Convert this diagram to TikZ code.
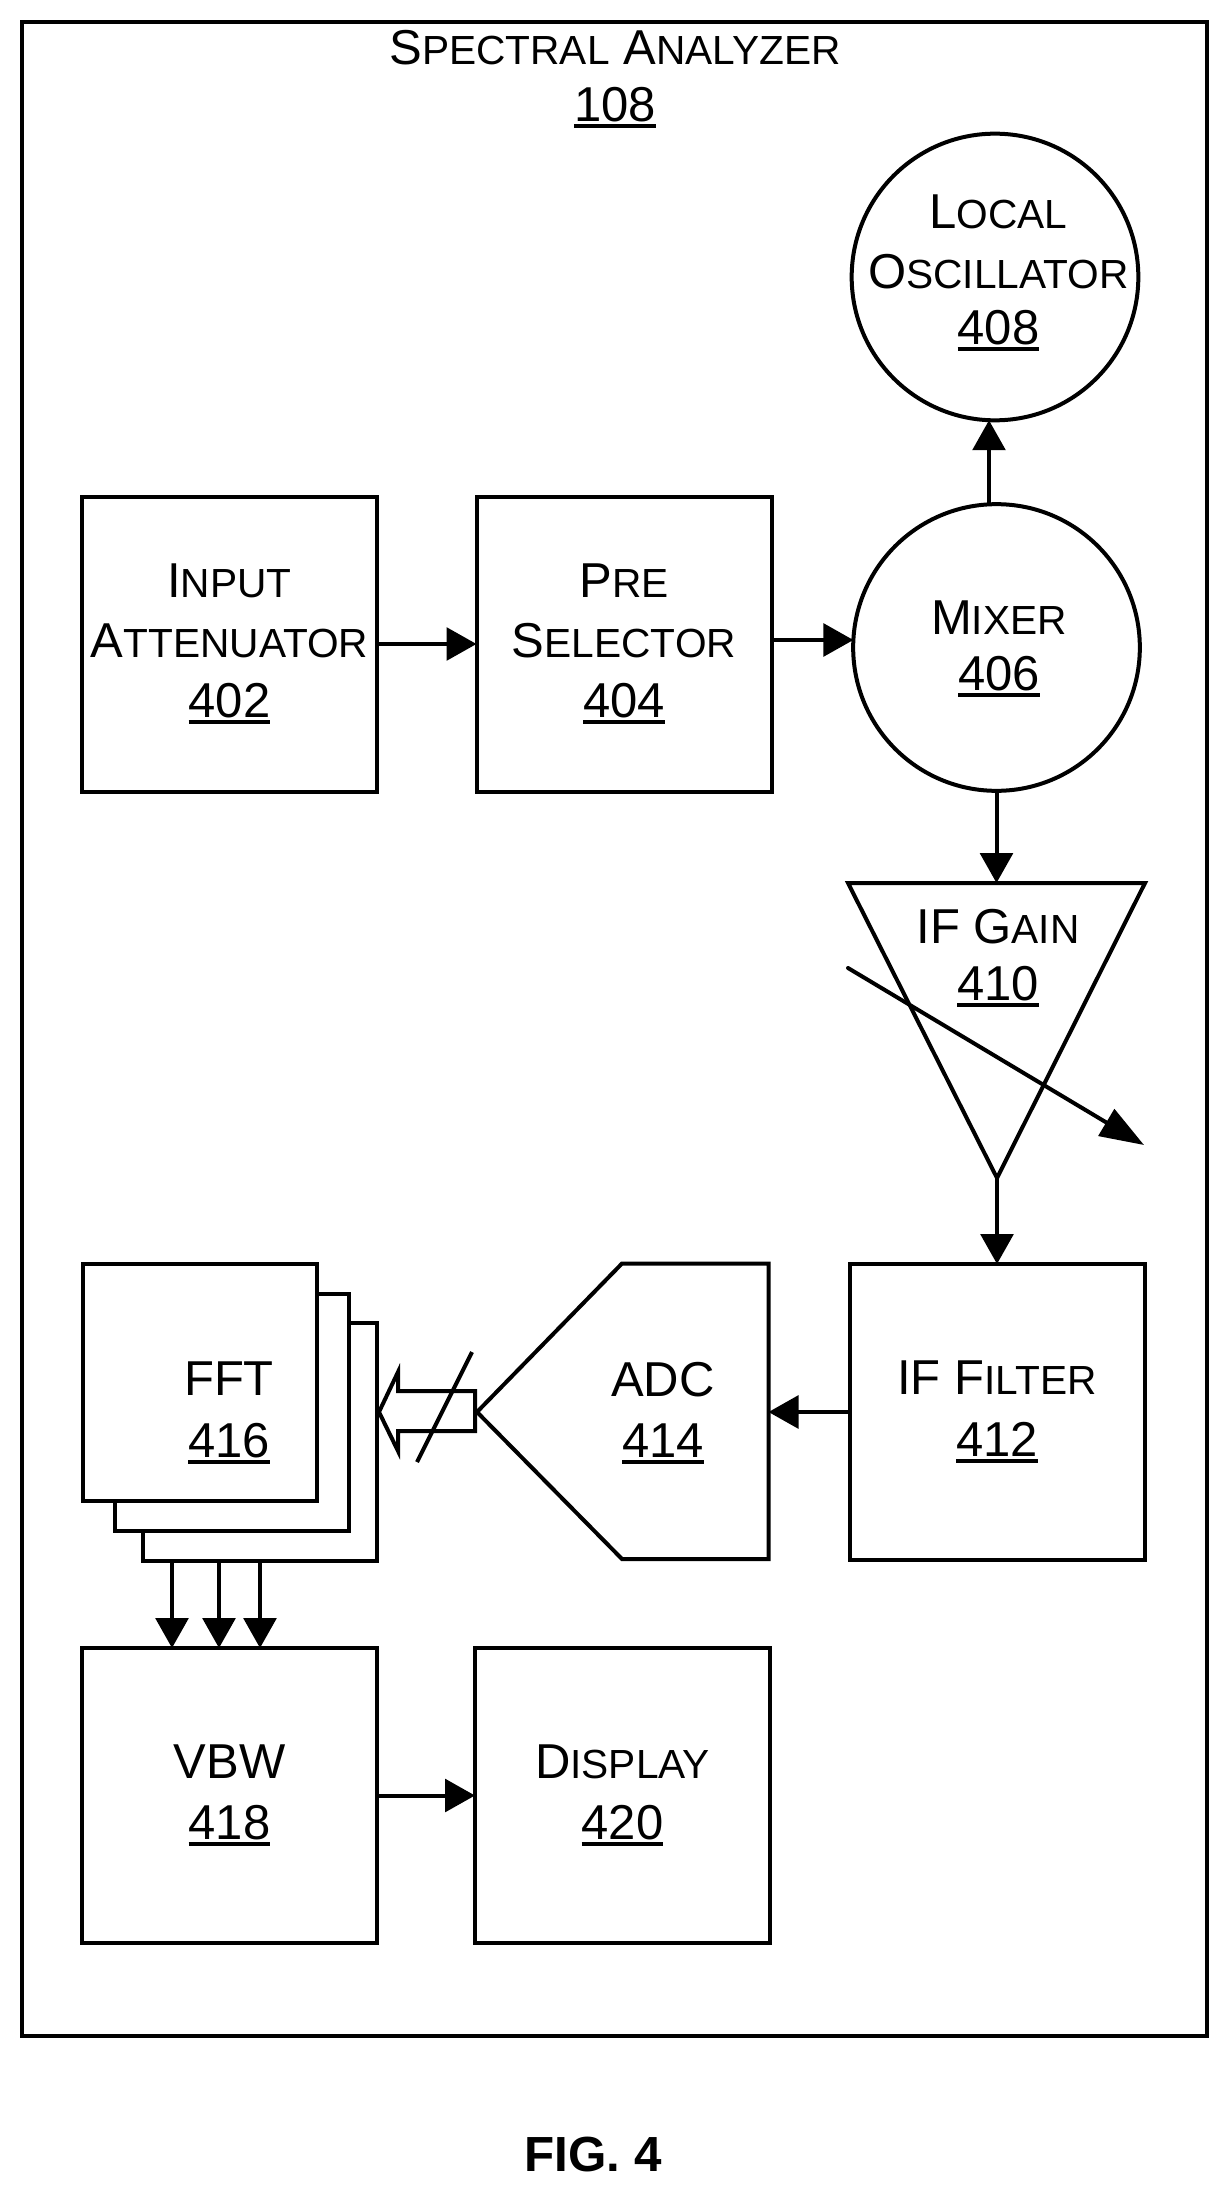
\documentclass[tikz,border=0pt]{standalone}
\usepackage{fontspec}
\setmainfont{Liberation Sans}
\usetikzlibrary{arrows.meta,calc}
\newcommand\smc[1]{{\fontsize{30.5}{45}\selectfont #1}}
\newlength\ulw
\newcommand\ulnum[1]{\settowidth\ulw{#1}\rlap{\rule[-5pt]{\ulw}{3pt}}#1}
\tikzset{
  x=0.75pt,y=-0.75pt,
  every node/.style={inner sep=0pt,outer sep=0pt,align=center,font=\fontsize{36.75}{45}\selectfont},
  stroke/.style={line width=3pt,draw=black,line join=miter},
  blockbox/.style={stroke,fill=white,rectangle,minimum width=221.25pt,minimum height=221.25pt},
  roundblock/.style={stroke,fill=white,circle,minimum size=215pt},
  stackbox/.style={stroke,fill=white,rectangle,minimum width=175.5pt,minimum height=178pt},
  flow/.style={line width=3pt,-{Triangle[length=22.5pt,width=24.5pt]}},
}
\begin{document}
\begin{tikzpicture}
\useasboundingbox (0,0) rectangle (1226,2186);
\fill[white] (0,0) rectangle (1226,2186);
\draw[stroke,line width=3.4pt] (22,22) rectangle (1207,2036);
\node (title) at (615,79.5) {S\smc{PECTRAL} A\smc{NALYZER}\\[-2.5pt]\ulnum{108}};
% top row
\node[blockbox] (inp) at (229.5,644) {I\smc{NPUT}\\A\smc{TTENUATOR}\\\ulnum{402}};
\node[blockbox] (pre) at (624,644) {P\smc{RE}\\S\smc{ELECTOR}\\\ulnum{404}};
\node[roundblock] (mix) at (996.5,647.5) {};
\node (mixlabel) at (999,649) {M\smc{IXER}\\[-3pt]\ulnum{406}};
\node[roundblock] (lo) at (995,277) {};
\node (lolabel) at (998.5,272.5) {L\smc{OCAL}\\[0.7pt]O\smc{SCILLATOR}\\[-3.7pt]\ulnum{408}};
% IF gain
\coordinate (gaina) at (848,883);
\coordinate (gainb) at (1145,883);
\coordinate (gainc) at (997,1178);
\draw[stroke,fill=white] (gaina) -- (gainb) -- (gainc) -- cycle;
\node (gain) at (998,958) {IF G\smc{AIN}\\[-2.5pt]\ulnum{410}};
\coordinate (vara) at (848,968);
\coordinate (varb) at (1144,1145);
\draw[line width=3pt,line cap=round,-{Triangle[length=33pt,width=23pt]}] (vara) -- (varb);
% IF filter
\node[blockbox,minimum height=222pt] (filt) at (997,1412) {IF F\smc{ILTER}\\[1pt]\ulnum{412}};
% ADC
\coordinate (adctip) at (477,1412);
\coordinate (adca) at (622,1263.5);
\coordinate (adcb) at (768.5,1263.5);
\coordinate (adcc) at (768.5,1559);
\coordinate (adcd) at (622,1559);
\draw[stroke,fill=white] (adctip) -- (adca) -- (adcb) -- (adcc) -- (adcd) -- cycle;
\node (adc) at (663,1413) {ADC\\[1pt]\ulnum{414}};
% FFT stack
\node[stackbox] (fftc) at (260,1442) {};
\node[stackbox] (fftb) at (231.5,1412.5) {};
\node[stackbox] (ffta) at (200,1382.5) {};
\node (fft) at (229,1413) {FFT\\[1pt]\ulnum{416}};
% bus arrow
\coordinate (busa) at (379,1412);
\coordinate (busb) at (398,1372);
\coordinate (busc) at (398,1391);
\coordinate (busd) at (475,1391);
\coordinate (buse) at (475,1431);
\coordinate (busf) at (398,1431);
\coordinate (busg) at (398,1451);
\draw[line width=3pt,fill=white] (busa) -- (busb) -- (busc) -- (busd) -- (buse) -- (busf) -- (busg) -- cycle;
\coordinate (slasha) at (472,1352);
\coordinate (slashb) at (417,1462);
\draw[line width=3pt] (slasha) -- (slashb);
% bottom row
\node[blockbox] (vbw) at (229.5,1795.5) {VBW\\[1pt]\ulnum{418}};
\node[blockbox] (disp) at (622.5,1795.5) {D\smc{ISPLAY}\\[1pt]\ulnum{420}};
% connectors
\draw[flow] (inp) -- (pre);
\draw[flow] (mix.177.4 -| pre.east) -- (mix.177.4);
\draw[flow] (mix.93.4) -- (mix.93.4 |- lo.-92.8);
\draw[flow] (mix.-90) -- (mix.-90 |- gaina);
\draw[flow] (gainc) -- (gainc |- filt.north);
\draw[flow] (filt.west) -- (filt.west -| adcb);
\draw[flow] (fftc.south -| 172,0) -- (vbw.north -| 172,0);
\draw[flow] (fftc.south -| 219,0) -- (vbw.north -| 219,0);
\draw[flow] (fftc.south -| 260,0) -- (vbw.north -| 260,0);
\draw[flow] (vbw) -- (disp);
\node[font=\fontsize{37}{45}\selectfont\bfseries] (fig) at (593,2154) {FIG. 4};
\end{tikzpicture}
\end{document}
